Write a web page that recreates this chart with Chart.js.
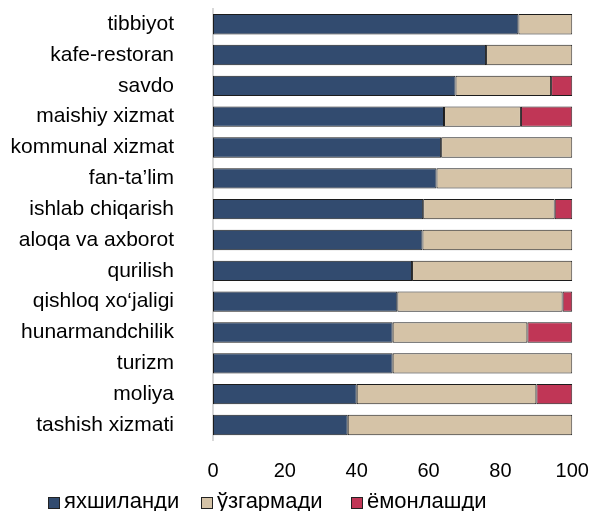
<!DOCTYPE html>
<html>
<head>
<meta charset="utf-8">
<script src="https://cdn.jsdelivr.net/npm/chart.js@4"></script>
<style>
  html, body { margin: 0; padding: 0; background: #fff; }
  #wrap { width: 593px; height: 511px; }
</style>
</head>
<body>
<div id="wrap"><canvas id="myChart" width="593" height="511"></canvas></div>
<script>
// categories, top to bottom
var sectors = ['tibbiyot', 'kafe-restoran', 'savdo', 'maishiy xizmat', 'kommunal xizmat',
  'fan-ta\u2019lim', 'ishlab chiqarish', 'aloqa va axborot', 'qurilish',
  'qishloq xo\u2018jaligi', 'hunarmandchilik', 'turizm', 'moliya', 'tashish xizmati'];

var improved  = [85, 76, 67.5, 64.3, 63.5, 62.2, 58.5, 58.3, 55.4, 51.3, 50, 50, 40, 37.5];
var unchanged = [15, 24, 26.6, 21.4, 36.5, 37.8, 36.6, 41.7, 44.6, 46.0, 37.5, 50, 50, 62.5];
var worsened  = [0, 0, 5.9, 14.3, 0, 0, 4.9, 0, 0, 2.7, 12.5, 0, 10, 0];

var seriesNames = ['яхшиланди', 'ўзгармади', 'ёмонлашди'];
var xTicks = [0, 20, 40, 60, 80, 100];

var colors = ['#324b6f', '#d5c3a7', '#c03656'];
var font = 'Liberation Sans, Arial, sans-serif';

// legend drawn in fixed slots, like the original
var legendSlots = [48, 201, 351];
var legendPlugin = {
  id: 'slotLegend',
  afterDraw: function (chart) {
    var c = chart.ctx;
    c.save();
    c.font = '22px ' + font;
    c.textBaseline = 'alphabetic';
    c.textAlign = 'left';
    chart.data.datasets.forEach(function (ds, i) {
      var x = legendSlots[i], y = 503;
      c.fillStyle = ds.backgroundColor;
      c.fillRect(x, y - 6, 12, 12);
      c.strokeStyle = '#222';
      c.lineWidth = 1;
      c.strokeRect(x + 0.5, y - 5.5, 11, 11);
      c.fillStyle = '#000';
      c.fillText(ds.label, x + 16, 508);
    });
    c.restore();
  }
};

var ctx = document.getElementById('myChart').getContext('2d');
var myChart = new Chart(ctx, {
  type: 'bar',
  data: {
    labels: sectors,
    datasets: [
      { label: seriesNames[0], data: improved,  backgroundColor: colors[0] },
      { label: seriesNames[1], data: unchanged, backgroundColor: colors[1] },
      { label: seriesNames[2], data: worsened,  backgroundColor: colors[2] }
    ]
  },
  options: {
    indexAxis: 'y',
    responsive: false,
    animation: false,
    devicePixelRatio: 1,
    layout: { padding: { top: 8.8, right: 20.7, bottom: 0, left: 0 } },
    datasets: {
      bar: {
        borderColor: '#1c1c1c',
        borderWidth: 1,
        borderSkipped: false,
        barPercentage: 0.66,
        categoryPercentage: 1
      }
    },
    plugins: {
      legend: { display: false },
      tooltip: { enabled: false }
    },
    scales: {
      x: {
        stacked: true,
        min: 0,
        max: 100,
        afterBuildTicks: function (s) { s.ticks = xTicks.map(function (v) { return { value: v }; }); },
        afterFit: function (s) { s.height = 70.6; s.paddingLeft = 0; s.paddingRight = 0; },
        grid: { display: false, drawTicks: false },
        border: { display: false },
        ticks: { color: '#000', padding: 19, font: { family: font, size: 20 } }
      },
      y: {
        stacked: true,
        afterFit: function (s) { s.width = 213; s.paddingTop = 0; s.paddingBottom = 0; },
        grid: { display: false, drawTicks: false },
        border: { display: true, color: '#d9d9d9', width: 2 },
        ticks: { color: '#000', padding: 39, font: { family: font, size: 21 } }
      }
    }
  },
  plugins: [legendPlugin]
});
</script>
</body>
</html>
